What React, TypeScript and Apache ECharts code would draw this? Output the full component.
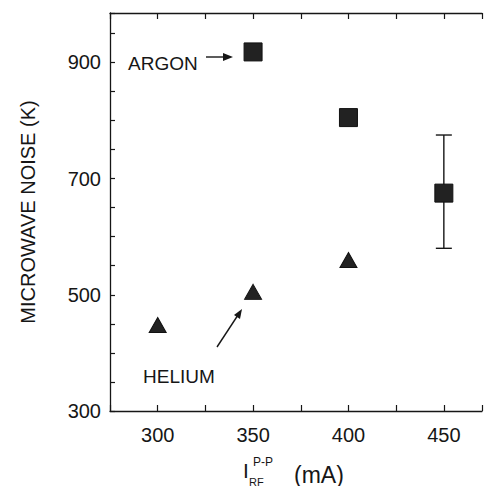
import React, { useEffect, useRef } from "react";
import * as echarts from "echarts";

// RF current (mA) and microwave noise temperature (K)
const argonCurrent = [350, 400, 450];
const argonNoise = [918, 805, 675];
const heliumCurrent = [300, 350, 400];
const heliumNoise = [448, 505, 560];
// uncertainty on the 450 mA argon point: [current, low, high]
const argonErrorBar = [[450, 580, 775]];
const yTickLabels = [300, 500, 700, 900];
const xTickLabels = [300, 350, 400, 450];

const FONT = "Liberation Sans";
const INK = "#161616";

// stippled fill for the markers
const markerDecal = {
  symbol: "circle",
  symbolSize: 0.5,
  color: "rgba(255,255,255,0.7)",
  dashArrayX: 4,
  dashArrayY: 3.5,
  rotation: 0,
};

export default function App() {
  const ref = useRef<HTMLDivElement>(null);

  useEffect(() => {
    if (!ref.current) return;
    const chart = echarts.init(ref.current, null, { renderer: "svg" });

    const xCommon = {
      type: "value" as const,
      min: 275,
      max: 470,
      interval: 25,
      splitLine: { show: false },
      axisLine: { show: true, lineStyle: { color: INK, width: 1.3 } },
      axisTick: { show: true, inside: true, length: 6, lineStyle: { color: INK, width: 1.2 } },
    };

    chart.setOption({
      animation: false,
      backgroundColor: "#ffffff",
      aria: { enabled: false, decal: { show: true } },
      grid: { left: 110, right: 0, top: 13, bottom: 75, containLabel: false },
      xAxis: [
        {
          ...xCommon,
          position: "bottom",
          axisLabel: {
            margin: 14,
            fontFamily: FONT,
            fontSize: 20,
            color: INK,
            formatter: (v: number) => (xTickLabels.includes(v) ? String(v) : ""),
          },
        },
        {
          ...xCommon,
          position: "top",
          axisLabel: { show: false },
        },
      ],
      yAxis: {
        type: "value",
        min: 300,
        max: 985,
        interval: 50,
        splitLine: { show: false },
        axisLine: { show: true, lineStyle: { color: INK, width: 1.3 } },
        axisTick: { show: true, inside: true, length: 5, lineStyle: { color: INK, width: 1.2 } },
        axisLabel: {
          margin: 9,
          fontFamily: FONT,
          fontSize: 20,
          color: INK,
          formatter: (v: number) => (yTickLabels.includes(v) ? String(v) : ""),
        },
      },
      series: [
        {
          name: "ARGON",
          type: "scatter",
          symbol: "rect",
          symbolSize: 18,
          data: argonCurrent.map((c, i) => [c, argonNoise[i]]),
          itemStyle: { color: "#222222", opacity: 1, borderColor: "#111", borderWidth: 1, decal: markerDecal },
          z: 3,
        },
        {
          name: "HELIUM",
          type: "scatter",
          symbol: "triangle",
          symbolSize: [17, 15],
          data: heliumCurrent.map((c, i) => [c, heliumNoise[i]]),
          itemStyle: { color: "#222222", opacity: 1, borderColor: "#111", borderWidth: 1, decal: markerDecal },
          z: 3,
        },
        {
          name: "error",
          type: "custom",
          data: argonErrorBar,
          z: 2,
          renderItem: (_params: any, api: any) => {
            const x = api.value(0);
            const top = api.coord([x, api.value(2)]);
            const bot = api.coord([x, api.value(1)]);
            const half = 8;
            const style = { stroke: INK, lineWidth: 1.4 };
            return {
              type: "group",
              children: [
                { type: "line", shape: { x1: top[0], y1: top[1], x2: bot[0], y2: bot[1] }, style },
                { type: "line", shape: { x1: top[0] - half, y1: top[1], x2: top[0] + half, y2: top[1] }, style },
                { type: "line", shape: { x1: bot[0] - half, y1: bot[1], x2: bot[0] + half, y2: bot[1] }, style },
              ],
            };
          },
        },
      ],
      graphic: [
        // y-axis title
        {
          type: "text",
          x: 28,
          y: 212,
          rotation: Math.PI / 2,
          style: {
            text: "MICROWAVE NOISE (K)",
            font: `20px "${FONT}"`,
            fill: INK,
            align: "center",
            verticalAlign: "middle",
          },
        },
        // x-axis title: I_RF^(P-P) (mA)
        { type: "text", x: 243, y: 481, style: { text: "I", font: `21px "${FONT}"`, fill: INK, verticalAlign: "bottom" } },
        { type: "text", x: 249, y: 487, style: { text: "RF", font: `11px "${FONT}"`, fill: INK, verticalAlign: "bottom" } },
        { type: "text", x: 253, y: 468, style: { text: "P-P", font: `12px "${FONT}"`, fill: INK, verticalAlign: "bottom" } },
        { type: "text", x: 294, y: 486, style: { text: "(mA)", font: `23px "${FONT}"`, fill: INK, verticalAlign: "bottom" } },
        // series annotations
        { type: "text", x: 128, y: 63, style: { text: "ARGON", font: `19px "${FONT}"`, fill: INK, verticalAlign: "middle" } },
        { type: "line", shape: { x1: 206, y1: 57, x2: 226, y2: 57 }, style: { stroke: INK, lineWidth: 1.4 } },
        { type: "polygon", shape: { points: [[223, 53], [233, 57], [223, 61]] }, style: { fill: INK } },
        { type: "text", x: 143, y: 376, style: { text: "HELIUM", font: `19px "${FONT}"`, fill: INK, verticalAlign: "middle" } },
        { type: "line", shape: { x1: 217, y1: 347, x2: 240, y2: 312 }, style: { stroke: INK, lineWidth: 1.4 } },
        { type: "polygon", shape: { points: [[242, 309], [240, 319], [234, 315]] }, style: { fill: INK } },
      ],
    });

    return () => chart.dispose();
  }, []);

  return <div ref={ref} style={{ width: 485, height: 486, position: "absolute", left: 0, top: 0 }} />;
}
